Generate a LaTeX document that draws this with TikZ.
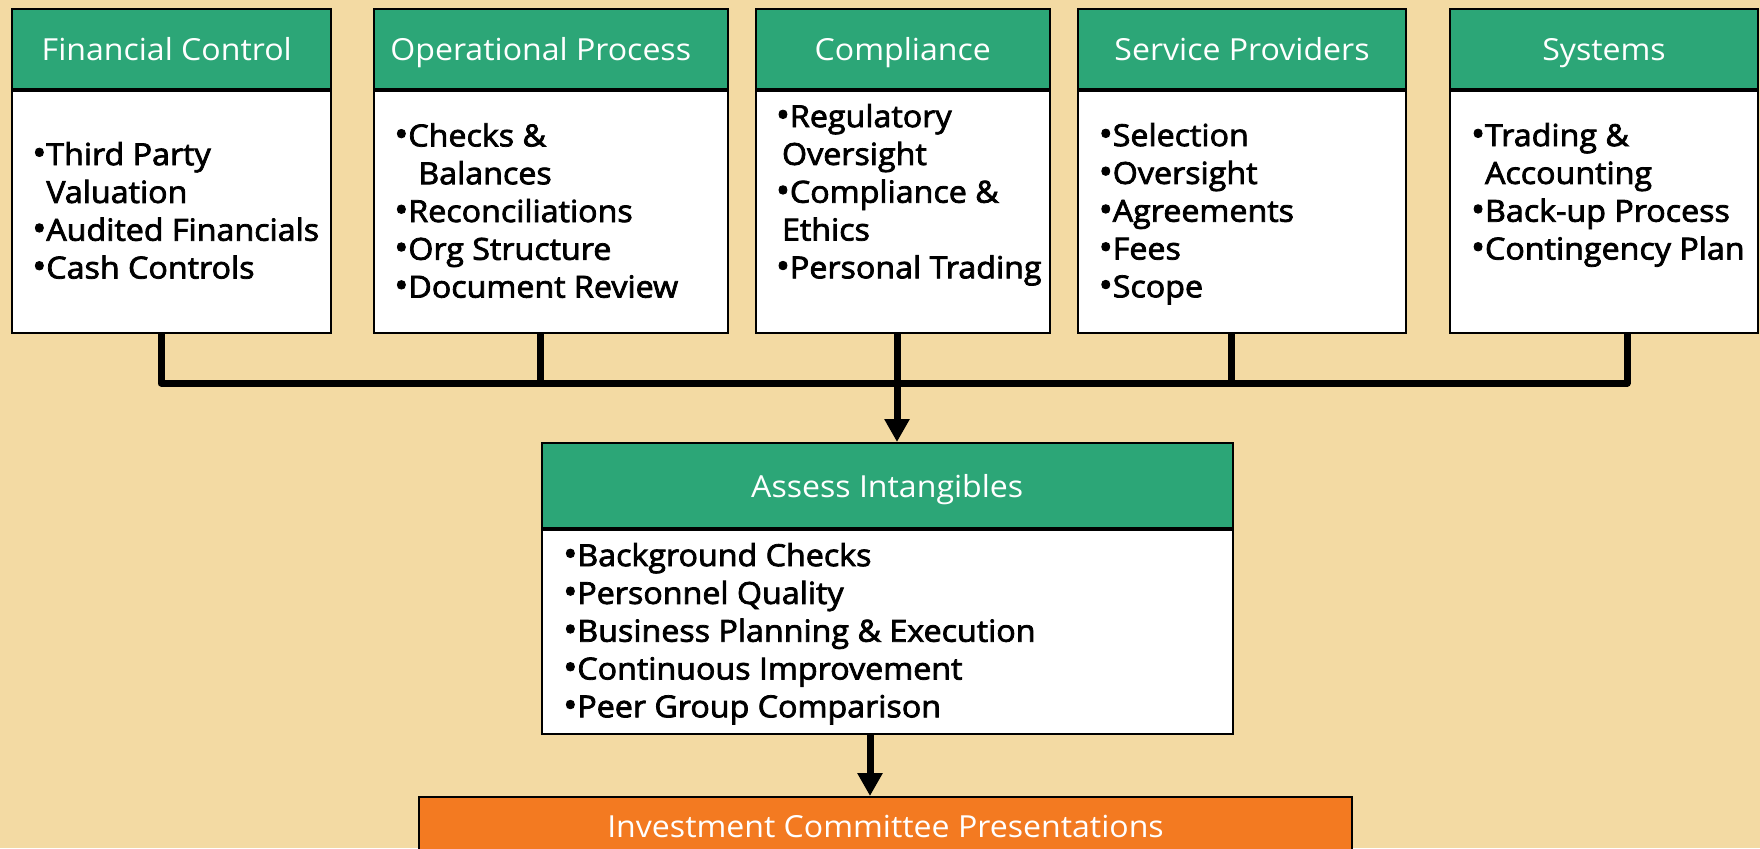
\documentclass[tikz,border=0pt]{standalone}
\usepackage{fontspec}
\setmainfont{Open Sans}[FakeStretch=1.055]
\newfontfamily\itemfont{Open Sans}[FakeStretch=1.06, FakeBold=2.5]
\usepackage{xcolor}
\usetikzlibrary{positioning, arrows.meta}
\definecolor{sand}{RGB}{243,218,163}
\definecolor{leaf}{RGB}{44,166,119}
\definecolor{pumpkin}{RGB}{243,122,33}
\newcommand\bul{\scalebox{1.15}{•}}

\begin{document}
\begin{tikzpicture}
        [
        x=0.5pt, y=-0.5pt,
        every node/.style = {inner sep=0pt},
        head/.style = {draw, fill=leaf, text=white, line width=1pt, minimum height=40.25pt,
            text height=11.5pt, text depth=0pt, font=\fontsize{15.2}{18.9}\selectfont},
        panel/.style = {draw, fill=white, line width=1pt, minimum height=120.75pt},
        items/.style = {align=left, anchor=north west, font=\itemfont\fontsize{15.2}{18.9}\selectfont},
        link/.style = {line width=3.5pt, line join=round},
        tip/.style = {-{Triangle[length=11.5pt, width=12pt]}}
        ]
    \useasboundingbox (0,0) rectangle (1760,848);
    \fill[sand] (0,0) rectangle (1760,848);

    \node[head, minimum width=159.25pt, anchor=north west] (fin) at (11,7.5) {Financial Control\rule{4.5pt}{0pt}};
    \node[head, minimum width=177.25pt, right=20.5pt of fin] (ops) {Operational Process\rule{10pt}{0pt}};
    \node[head, minimum width=147.25pt, right=12.75pt of ops] (comp) {Compliance};
    \node[head, minimum width=164pt, right=13pt of comp] (serv) {Service Providers};
    \node[head, minimum width=154pt, right=21pt of serv] (sys) {Systems};

    \node[panel, minimum width=159.25pt, below=0pt of fin] (finb) {};
    \node[panel, minimum width=177.25pt, below=0pt of ops] (opsb) {};
    \node[panel, minimum width=147.25pt, below=0pt of comp] (compb) {};
    \node[panel, minimum width=164pt, below=0pt of serv] (servb) {};
    \node[panel, minimum width=154pt, below=0pt of sys] (sysb) {};

    \node[items] (fint) at (32,141.6) {\bul Third Party\\\phantom{\bul}Valuation\\\bul Audited Financials\\\bul Cash Controls};
    \node[items] (opst) at (394,122.9) {\bul Checks \&\\\phantom{\bul}\hspace{5pt}Balances\\\bul Reconciliations\\\bul Org Structure\\\bul Document Review};
    \node[items] (compt) at (775.6,103.6) {\bul Regulatory\\\hspace{3pt}Oversight\\\bul Compliance \&\\\hspace{3pt}Ethics\\\bul Personal Trading};
    \node[items] (servt) at (1098.4,122.6) {\bul Selection\\\bul Oversight\\\bul Agreements\\\bul Fees\\\bul Scope};
    \node[items] (syst) at (1470.7,122.6) {\bul Trading \&\\\phantom{\bul}Accounting\\\bul Back-up Process\\\bul Contingency Plan};

    \node[head, minimum width=345.25pt, minimum height=42.5pt, anchor=north west] (intg) at (541,442) {Assess Intangibles};
    \node[panel, minimum width=345.25pt, minimum height=101.75pt, below=0pt of intg] (intgb) {};
    \node[items] (intgt) at (563,542.6) {\bul Background Checks\\\bul Personnel Quality\\\bul Business Planning \& Execution\\\bul Continuous Improvement\\\bul Peer Group Comparison};

    \node[head, fill=pumpkin, minimum width=466.5pt, minimum height=29pt, anchor=north west] (ic) at (418,796) {Investment Committee Presentations};

    \coordinate (c1) at (161,383);
    \coordinate (c2) at (540,383);
    \coordinate (c3) at (897,383);
    \coordinate (c4) at (1231,383);
    \coordinate (c5) at (1627,383);
    \coordinate (dn) at (870,760);

    \draw[link] (finb.south -| c1) -- (c1) -- (c5) -- (sysb.south -| c5);
    \draw[link] (opsb.south -| c2) -- (c2);
    \draw[link] (servb.south -| c4) -- (c4);
    \draw[link, tip] (compb.south -| c3) -- (intg.north -| c3);
    \draw[link, tip] (intgb.south -| dn) -- (ic.north -| dn);
\end{tikzpicture}
\end{document}
